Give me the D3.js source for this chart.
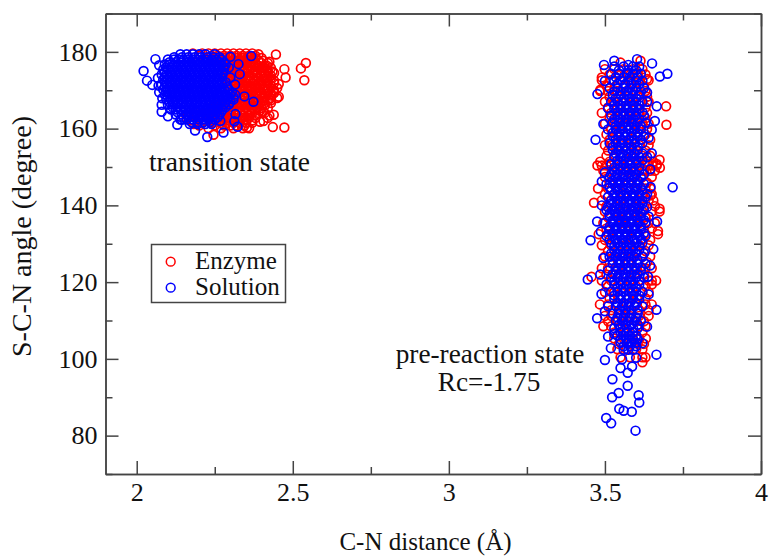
<!DOCTYPE html>
<html lang="en">

<head>
    <meta charset="utf-8">
    <title>S-C-N angle vs C-N distance</title>
    <script src="https://d3js.org/d3.v7.min.js"></script>
    <style>
        body { margin: 0; background: #fff; }
        text { font-family: "Liberation Serif", serif; fill: #111; }
    </style>
</head>

<body>
    <script type="text/javascript">
        var w = 769;
        var h = 557;

        var xTicks = [2, 2.5, 3, 3.5, 4];
        var xMinor = [2.25, 2.75, 3.25, 3.75];
        var yTicks = [80, 100, 120, 140, 160, 180];
        var yMinor = [70, 90, 110, 130, 150, 170, 190];

        var enzymeTsRows = [
            [179.6, 2.18, 2.21, 2.23, 2.25, 2.27, 2.29, 2.31, 2.33, 2.35, 2.37],
            [179, 2.2, 2.24, 2.26, 2.28, 2.3, 2.32, 2.34, 2.36, 2.38],
            [178.4, 2.23, 2.26, 2.28, 2.3, 2.32, 2.34, 2.36, 2.38, 2.4],
            [177.7, 2.25, 2.29, 2.31, 2.33, 2.35, 2.37, 2.39, 2.405],
            [177.1, 2.27, 2.29, 2.31, 2.33, 2.35, 2.365, 2.38, 2.4, 2.42],
            [176.4, 2.28, 2.3, 2.32, 2.34, 2.36, 2.375, 2.39, 2.41],
            [175.8, 2.28, 2.3, 2.32, 2.34, 2.355, 2.37, 2.39, 2.41, 2.43],
            [175.1, 2.29, 2.31, 2.33, 2.345, 2.36, 2.38, 2.4, 2.42],
            [174.5, 2.27, 2.29, 2.31, 2.33, 2.35, 2.37, 2.385, 2.4, 2.42, 2.44],
            [173.8, 2.28, 2.3, 2.32, 2.34, 2.36, 2.38, 2.395, 2.41, 2.43],
            [173.2, 2.28, 2.3, 2.32, 2.34, 2.36, 2.375, 2.39, 2.41, 2.43],
            [172.5, 2.29, 2.31, 2.33, 2.35, 2.365, 2.38, 2.4, 2.42, 2.44],
            [171.9, 2.29, 2.31, 2.33, 2.35, 2.37, 2.39, 2.4, 2.42, 2.44],
            [171.2, 2.3, 2.32, 2.34, 2.36, 2.38, 2.395, 2.41, 2.43],
            [170.6, 2.3, 2.32, 2.34, 2.36, 2.38, 2.395, 2.41, 2.43, 2.45],
            [170, 2.31, 2.33, 2.35, 2.37, 2.39, 2.405, 2.42, 2.44],
            [169.3, 2.31, 2.33, 2.35, 2.37, 2.385, 2.4, 2.42, 2.44],
            [168.6, 2.32, 2.34, 2.36, 2.38, 2.395, 2.41, 2.43],
            [168, 2.31, 2.33, 2.35, 2.365, 2.38, 2.4, 2.41, 2.43, 2.45],
            [167.3, 2.3, 2.32, 2.34, 2.36, 2.375, 2.39, 2.405, 2.42],
            [166.7, 2.26, 2.28, 2.3, 2.32, 2.34, 2.36, 2.38, 2.395, 2.41, 2.43],
            [166, 2.25, 2.27, 2.29, 2.31, 2.33, 2.35, 2.37, 2.39, 2.41],
            [165.4, 2.23, 2.25, 2.27, 2.29, 2.31, 2.33, 2.35, 2.37, 2.385, 2.4, 2.42],
            [164.7, 2.22, 2.24, 2.26, 2.28, 2.3, 2.32, 2.34, 2.36, 2.38, 2.395],
            [164.1, 2.19, 2.22, 2.25, 2.27, 2.29, 2.31, 2.33, 2.35, 2.37, 2.39, 2.41],
            [163.4, 2.21, 2.24, 2.26, 2.28, 2.3, 2.32, 2.34, 2.36, 2.38],
            [162.8, 2.16, 2.2, 2.24, 2.26, 2.28, 2.3, 2.32, 2.34, 2.36, 2.38, 2.42],
            [162.1, 2.18, 2.22, 2.25, 2.27, 2.29, 2.31, 2.33, 2.35, 2.37],
            [161.5, 2.18, 2.21, 2.24, 2.27, 2.29, 2.31, 2.33, 2.35, 2.37],
            [160.8, 2.2, 2.25, 2.28, 2.3, 2.32, 2.345],
            [160.1, 2.23, 2.27, 2.31, 2.34, 2.36]
        ];
        var enzymeTsLoose = [
            [2.446, 179.3], [2.473, 175.5], [2.477, 173.3], [2.542, 177.1], [2.526, 175.7], [2.537, 172.6],
            [2.473, 160.3], [2.436, 160.4], [2.439, 163.6], [2.455, 168.3], [2.455, 171.6], [2.39, 179.4],
            [2.417, 176.4], [2.406, 162], [2.353, 160.3], [2.246, 158.4], [2.182, 161.2], [2.425, 163.4],
            [2.44, 169.5], [2.43, 167.4], [2.435, 174.9], [2.425, 177.4], [2.405, 164.4], [2.395, 161.8]
        ];
        var enzymePreRows = [
            [175.5, 3.5, 3.53, 3.56, 3.59, 3.62],
            [174.1, 3.515, 3.545, 3.575, 3.605, 3.63],
            [172.6, 3.49, 3.52, 3.55, 3.58, 3.61, 3.64],
            [171.1, 3.505, 3.535, 3.565, 3.595, 3.625],
            [169.8, 3.485, 3.51, 3.54, 3.57, 3.6, 3.63],
            [168.3, 3.515, 3.545, 3.575, 3.605, 3.635],
            [167, 3.5, 3.53, 3.56, 3.59, 3.62, 3.64],
            [165.5, 3.51, 3.54, 3.57, 3.6, 3.63],
            [164.1, 3.49, 3.52, 3.55, 3.58, 3.61, 3.635],
            [162.7, 3.515, 3.545, 3.575, 3.605, 3.63],
            [161.3, 3.5, 3.53, 3.56, 3.59, 3.62, 3.64],
            [159.9, 3.52, 3.55, 3.58, 3.61, 3.635],
            [158.5, 3.505, 3.54, 3.57, 3.6, 3.63],
            [157.1, 3.515, 3.55, 3.585, 3.615, 3.645],
            [155.7, 3.5, 3.52, 3.55, 3.58, 3.61, 3.64],
            [154.3, 3.51, 3.54, 3.57, 3.6, 3.63],
            [152.9, 3.505, 3.53, 3.56, 3.59, 3.62, 3.645],
            [151.4, 3.485, 3.515, 3.545, 3.575, 3.605, 3.635, 3.655],
            [150.4, 3.476, 3.49, 3.505, 3.52, 3.55, 3.58, 3.61, 3.63, 3.64, 3.652, 3.666],
            [149, 3.495, 3.53, 3.565, 3.595, 3.625, 3.645, 3.66],
            [147.4, 3.5, 3.53, 3.56, 3.59, 3.62, 3.65],
            [145.9, 3.515, 3.545, 3.575, 3.605, 3.635],
            [144.4, 3.478, 3.51, 3.54, 3.57, 3.6, 3.63, 3.646],
            [142.9, 3.5, 3.53, 3.56, 3.59, 3.62, 3.65],
            [141.3, 3.49, 3.52, 3.55, 3.58, 3.61, 3.64, 3.655],
            [139.8, 3.505, 3.535, 3.565, 3.595, 3.625, 3.66],
            [138.4, 3.5, 3.53, 3.56, 3.59, 3.62, 3.65, 3.675],
            [136.9, 3.51, 3.54, 3.57, 3.6, 3.63],
            [135.4, 3.495, 3.52, 3.55, 3.58, 3.61, 3.64, 3.66],
            [134, 3.505, 3.535, 3.565, 3.595, 3.625, 3.65],
            [132.5, 3.48, 3.51, 3.54, 3.57, 3.6, 3.63, 3.67],
            [131, 3.5, 3.53, 3.56, 3.59, 3.62, 3.645],
            [129.6, 3.49, 3.52, 3.55, 3.58, 3.61, 3.64],
            [128.1, 3.51, 3.54, 3.57, 3.6, 3.63],
            [126.7, 3.5, 3.53, 3.56, 3.59, 3.62, 3.645],
            [125.2, 3.515, 3.545, 3.575, 3.605, 3.635],
            [123.6, 3.49, 3.51, 3.54, 3.57, 3.6, 3.63, 3.65],
            [122, 3.505, 3.535, 3.565, 3.595, 3.625],
            [120.4, 3.49, 3.52, 3.55, 3.58, 3.61, 3.64, 3.65, 3.664],
            [118.9, 3.51, 3.54, 3.57, 3.6, 3.63],
            [117.4, 3.5, 3.53, 3.56, 3.59, 3.62, 3.64],
            [115.8, 3.515, 3.545, 3.575, 3.605, 3.63],
            [114.2, 3.484, 3.51, 3.54, 3.57, 3.6, 3.63, 3.65],
            [112.7, 3.52, 3.55, 3.58, 3.61, 3.64],
            [111.2, 3.5, 3.52, 3.55, 3.58, 3.61, 3.64],
            [109.8, 3.51, 3.54, 3.57, 3.6, 3.625],
            [108.5, 3.495, 3.52, 3.55, 3.58, 3.61, 3.63],
            [106.9, 3.53, 3.56, 3.59, 3.62],
            [105.3, 3.53, 3.56, 3.59, 3.61, 3.631],
            [103.9, 3.545, 3.575, 3.605, 3.625],
            [102.5, 3.54, 3.57, 3.6, 3.62],
            [100.4, 3.55, 3.58, 3.62, 3.63]
        ];
        var enzymePreLoose = [
            [3.696, 165.8], [3.697, 161], [3.675, 151.9], [3.676, 149.8], [3.666, 150.8], [3.465, 140.7],
            [3.485, 170.1], [3.49, 173.3], [3.614, 177.7], [3.55, 177.2], [3.635, 172.9], [3.675, 139.1],
            [3.67, 133.3], [3.646, 142.6], [3.457, 121.4], [3.62, 99.1], [3.65, 119.4]
        ];

        var solutionTsRows = [
            [179.4, 2.14, 2.16, 2.18, 2.2, 2.22, 2.25],
            [178.6, 2.12, 2.145, 2.165, 2.185, 2.205, 2.225, 2.245, 2.265],
            [178, 2.1, 2.12, 2.135, 2.15, 2.165, 2.18, 2.195, 2.21, 2.225, 2.24, 2.255, 2.27],
            [177.3, 2.105, 2.125, 2.14, 2.16, 2.175, 2.19, 2.205, 2.22, 2.235, 2.25, 2.265, 2.28],
            [176.7, 2.09, 2.105, 2.12, 2.135, 2.15, 2.165, 2.18, 2.195, 2.21, 2.225, 2.24, 2.255, 2.27, 2.285],
            [176, 2.095, 2.11, 2.13, 2.145, 2.16, 2.175, 2.19, 2.205, 2.22, 2.235, 2.25, 2.265, 2.28],
            [175.4, 2.085, 2.1, 2.115, 2.13, 2.145, 2.16, 2.175, 2.19, 2.205, 2.22, 2.235, 2.25, 2.265, 2.28],
            [174.7, 2.09, 2.11, 2.125, 2.14, 2.155, 2.17, 2.185, 2.2, 2.215, 2.23, 2.245, 2.26, 2.275],
            [174.1, 2.08, 2.095, 2.11, 2.125, 2.14, 2.155, 2.17, 2.185, 2.2, 2.215, 2.23, 2.245, 2.26, 2.275],
            [173.4, 2.09, 2.105, 2.12, 2.135, 2.15, 2.165, 2.18, 2.195, 2.21, 2.225, 2.24, 2.255, 2.27],
            [172.8, 2.085, 2.1, 2.115, 2.13, 2.145, 2.16, 2.175, 2.19, 2.205, 2.22, 2.235, 2.25, 2.265],
            [172.1, 2.09, 2.105, 2.12, 2.135, 2.15, 2.165, 2.18, 2.195, 2.21, 2.225, 2.24, 2.255, 2.27, 2.285],
            [171.5, 2.08, 2.095, 2.11, 2.125, 2.14, 2.155, 2.17, 2.185, 2.2, 2.215, 2.23, 2.245, 2.26, 2.275],
            [170.8, 2.09, 2.105, 2.12, 2.135, 2.15, 2.165, 2.18, 2.195, 2.21, 2.225, 2.24, 2.255, 2.27, 2.29],
            [170.2, 2.085, 2.1, 2.115, 2.13, 2.145, 2.16, 2.175, 2.19, 2.205, 2.22, 2.235, 2.25, 2.265, 2.28, 2.295],
            [169.5, 2.095, 2.11, 2.125, 2.14, 2.155, 2.17, 2.185, 2.2, 2.215, 2.23, 2.245, 2.26, 2.275, 2.29, 2.305],
            [168.9, 2.09, 2.105, 2.12, 2.135, 2.15, 2.165, 2.18, 2.195, 2.21, 2.225, 2.24, 2.255, 2.27, 2.285, 2.3, 2.315],
            [168.2, 2.1, 2.115, 2.13, 2.145, 2.16, 2.175, 2.19, 2.205, 2.22, 2.235, 2.25, 2.265, 2.28, 2.295, 2.31],
            [167.6, 2.095, 2.11, 2.125, 2.14, 2.155, 2.17, 2.185, 2.2, 2.215, 2.23, 2.245, 2.26, 2.275, 2.29, 2.31],
            [166.9, 2.105, 2.12, 2.135, 2.15, 2.165, 2.18, 2.195, 2.21, 2.225, 2.24, 2.255, 2.27, 2.285, 2.3],
            [166.3, 2.1, 2.115, 2.13, 2.145, 2.16, 2.175, 2.19, 2.205, 2.22, 2.235, 2.25, 2.265, 2.28, 2.295],
            [165.6, 2.115, 2.13, 2.15, 2.165, 2.18, 2.195, 2.21, 2.225, 2.24, 2.255, 2.27, 2.285],
            [165, 2.11, 2.125, 2.14, 2.155, 2.17, 2.185, 2.2, 2.215, 2.23, 2.245, 2.26, 2.275],
            [164.3, 2.13, 2.15, 2.165, 2.18, 2.195, 2.21, 2.225, 2.24, 2.255, 2.27],
            [163.7, 2.125, 2.145, 2.16, 2.175, 2.19, 2.205, 2.22, 2.235, 2.25, 2.265],
            [163, 2.15, 2.17, 2.185, 2.2, 2.215, 2.23, 2.245, 2.26],
            [162.4, 2.14, 2.16, 2.18, 2.2, 2.215, 2.23, 2.25],
            [161.7, 2.175, 2.195, 2.215, 2.235],
            [161.2, 2.17, 2.195, 2.22, 2.24]
        ];
        var solutionTsLoose = [
            [2.022, 175], [2.06, 178.1], [2.033, 172.5], [2.05, 171.4], [2.07, 171.2], [2.08, 166.2],
            [2.08, 164.4], [2.1, 163.2], [2.13, 161], [2.145, 162.3], [2.187, 159.5], [2.226, 157.8],
            [2.278, 159], [2.323, 160.5], [2.313, 161.9], [2.268, 162], [2.316, 163.8], [2.374, 167],
            [2.345, 168.4], [2.33, 174.2], [2.326, 176.8], [2.367, 178.9], [2.3, 178.7], [2.315, 171.5],
            [2.072, 176.5], [2.068, 173.2], [2.072, 169.5], [2.082, 167.9], [2.295, 175.9], [2.3, 173.3]
        ];
        var solutionPreRows = [
            [176.2, 3.53, 3.56, 3.59, 3.61],
            [175.2, 3.545, 3.575, 3.6],
            [174.3, 3.52, 3.545, 3.57, 3.59, 3.615],
            [173.4, 3.535, 3.56, 3.58, 3.605],
            [172.5, 3.53, 3.55, 3.575, 3.6, 3.62],
            [171.6, 3.54, 3.565, 3.585, 3.61],
            [170.6, 3.515, 3.54, 3.56, 3.58, 3.6, 3.625],
            [169.7, 3.53, 3.55, 3.57, 3.59, 3.615],
            [168.8, 3.525, 3.55, 3.57, 3.59, 3.61],
            [167.9, 3.535, 3.56, 3.58, 3.6],
            [167, 3.52, 3.54, 3.56, 3.58, 3.6, 3.62, 3.635],
            [166.1, 3.53, 3.55, 3.57, 3.59, 3.61],
            [165.2, 3.53, 3.55, 3.57, 3.59, 3.61],
            [164.3, 3.54, 3.56, 3.58, 3.6, 3.62],
            [163.4, 3.52, 3.54, 3.56, 3.58, 3.6, 3.625],
            [162.5, 3.53, 3.55, 3.57, 3.59, 3.61],
            [161.6, 3.525, 3.545, 3.565, 3.585, 3.605, 3.63],
            [160.7, 3.535, 3.555, 3.575, 3.595, 3.615],
            [159.8, 3.51, 3.535, 3.555, 3.575, 3.595, 3.615],
            [158.9, 3.525, 3.545, 3.565, 3.585, 3.605],
            [158, 3.525, 3.545, 3.565, 3.585, 3.605, 3.625],
            [157.1, 3.535, 3.555, 3.575, 3.595, 3.615],
            [156.2, 3.515, 3.535, 3.555, 3.575, 3.595, 3.62],
            [155.3, 3.525, 3.545, 3.565, 3.585, 3.605],
            [154.4, 3.525, 3.545, 3.565, 3.585, 3.605],
            [153.5, 3.535, 3.555, 3.575, 3.595, 3.62],
            [152.6, 3.53, 3.55, 3.57, 3.59, 3.61, 3.635],
            [151.7, 3.54, 3.56, 3.58, 3.6, 3.62],
            [150.8, 3.52, 3.54, 3.56, 3.58, 3.6],
            [149.9, 3.53, 3.55, 3.57, 3.59, 3.61],
            [149, 3.53, 3.55, 3.57, 3.59, 3.61],
            [148.1, 3.52, 3.54, 3.56, 3.58, 3.6, 3.625],
            [147.3, 3.515, 3.535, 3.555, 3.575, 3.595, 3.615],
            [146.4, 3.525, 3.545, 3.565, 3.585, 3.605],
            [145.6, 3.505, 3.525, 3.545, 3.565, 3.585, 3.605, 3.625],
            [144.7, 3.515, 3.535, 3.555, 3.575, 3.595, 3.615],
            [143.9, 3.52, 3.54, 3.56, 3.58, 3.6, 3.62],
            [143, 3.53, 3.55, 3.57, 3.59, 3.61, 3.635],
            [142.2, 3.51, 3.53, 3.55, 3.57, 3.59, 3.61, 3.63],
            [141.3, 3.52, 3.54, 3.56, 3.58, 3.6, 3.62],
            [140.5, 3.52, 3.54, 3.56, 3.58, 3.6, 3.62],
            [139.6, 3.51, 3.53, 3.55, 3.57, 3.59, 3.61, 3.635],
            [138.8, 3.505, 3.525, 3.545, 3.565, 3.585, 3.605, 3.625],
            [137.9, 3.515, 3.535, 3.555, 3.575, 3.595, 3.615],
            [137.1, 3.515, 3.535, 3.555, 3.575, 3.595, 3.615, 3.64],
            [136.2, 3.525, 3.545, 3.565, 3.585, 3.605, 3.625],
            [135.4, 3.5, 3.525, 3.545, 3.565, 3.585, 3.605, 3.63],
            [134.5, 3.515, 3.535, 3.555, 3.575, 3.595, 3.615],
            [133.7, 3.515, 3.535, 3.555, 3.575, 3.595, 3.615],
            [132.8, 3.525, 3.545, 3.565, 3.585, 3.605, 3.625],
            [132, 3.505, 3.525, 3.545, 3.565, 3.585, 3.61, 3.63],
            [131.1, 3.515, 3.535, 3.555, 3.575, 3.595, 3.615],
            [130.2, 3.52, 3.54, 3.56, 3.58, 3.6, 3.62],
            [129.3, 3.53, 3.55, 3.57, 3.59, 3.61],
            [128.4, 3.53, 3.55, 3.57, 3.59, 3.61],
            [127.5, 3.52, 3.54, 3.56, 3.58, 3.6, 3.625],
            [126.6, 3.515, 3.535, 3.555, 3.575, 3.595, 3.62],
            [125.7, 3.525, 3.545, 3.565, 3.585, 3.605],
            [124.8, 3.525, 3.545, 3.565, 3.585, 3.605, 3.63],
            [123.9, 3.535, 3.555, 3.575, 3.595, 3.615],
            [123, 3.51, 3.535, 3.555, 3.575, 3.595, 3.615],
            [122.1, 3.525, 3.545, 3.565, 3.585, 3.605],
            [121.2, 3.52, 3.54, 3.56, 3.58, 3.6, 3.625],
            [120.3, 3.53, 3.55, 3.57, 3.59, 3.61],
            [119.4, 3.505, 3.53, 3.55, 3.57, 3.59, 3.61],
            [118.4, 3.54, 3.56, 3.58, 3.6],
            [117.5, 3.52, 3.54, 3.56, 3.58, 3.6, 3.62],
            [116.5, 3.53, 3.55, 3.57, 3.59, 3.61],
            [115.6, 3.53, 3.55, 3.57, 3.59, 3.61],
            [114.6, 3.54, 3.56, 3.58, 3.6],
            [113.7, 3.51, 3.535, 3.555, 3.575, 3.595, 3.62],
            [112.7, 3.545, 3.565, 3.585, 3.605],
            [111.8, 3.525, 3.545, 3.565, 3.585, 3.605],
            [110.8, 3.54, 3.56, 3.58, 3.6],
            [109.9, 3.535, 3.555, 3.575, 3.595, 3.615],
            [108.9, 3.545, 3.565, 3.585, 3.605],
            [108, 3.53, 3.55, 3.57, 3.59, 3.605],
            [107, 3.55, 3.57, 3.59],
            [106.1, 3.54, 3.56, 3.58, 3.6],
            [105.1, 3.55, 3.57, 3.59, 3.605],
            [104.2, 3.55, 3.57, 3.585, 3.6],
            [103.3, 3.56, 3.58, 3.6],
            [102.4, 3.56, 3.575, 3.59]
        ];
        var solutionPreLoose = [
            [3.651, 177], [3.676, 173.6], [3.7, 174.3], [3.603, 178.1], [3.53, 177.7], [3.497, 176.6],
            [3.575, 176.6], [3.476, 169], [3.47, 157.1], [3.717, 144.7], [3.454, 130.9], [3.666, 165.8],
            [3.66, 162], [3.65, 159.7], [3.65, 153.6], [3.646, 144.8], [3.667, 135.8], [3.49, 140],
            [3.475, 135.8], [3.445, 120.7], [3.489, 116.9], [3.485, 122], [3.638, 121.4], [3.665, 112.8],
            [3.475, 110.6], [3.665, 101.1], [3.5, 99.7], [3.519, 102.8], [3.524, 94.7], [3.573, 93],
            [3.523, 90], [3.544, 91.1], [3.608, 90.5], [3.61, 88.6], [3.546, 87], [3.56, 86.5],
            [3.586, 86.2], [3.504, 84.6], [3.52, 83.2], [3.598, 81.3], [3.55, 97.6], [3.573, 96.4],
            [3.587, 98], [3.555, 99.9], [3.6, 100.3],
            [3.5, 172.4], [3.51, 165.3], [3.495, 161.2], [3.5, 148.6], [3.49, 146.2], [3.487, 133.2],
            [3.495, 126.3], [3.5, 112.4], [3.51, 105.8], [3.635, 169.4], [3.64, 157.6], [3.645, 149.4],
            [3.655, 128.6], [3.645, 124.3], [3.64, 116.8], [3.635, 108.4], [3.62, 104.1], [3.53, 106.5]
        ];

        // rows -> [distance, angle]
        function unrow(rows) {
            return rows.flatMap(function (r) {
                return r.slice(1).map(function (d) { return [d, r[0]]; });
            });
        }
        var enzyme = unrow(enzymeTsRows).concat(enzymeTsLoose, unrow(enzymePreRows), enzymePreLoose);
        var solution = unrow(solutionTsRows).concat(solutionTsLoose, unrow(solutionPreRows), solutionPreLoose);

        var svg = d3.select("body")
            .append("svg").attr("width", w).attr("height", h).style("display", "block");

        var x = d3.scaleLinear().domain([1.9, 4]).range([105.5, 761]);
        var y = d3.scaleLinear().domain([70, 190]).range([474, 13.5]);

        function drawPoints(data, color) {
            svg.append("g").selectAll("circle")
                .data(data).enter().append("circle")
                .attr("cx", function (d) { return x(d[0]); })
                .attr("cy", function (d) { return y(d[1]); })
                .attr("r", 4.4)
                .attr("fill", "none")
                .attr("stroke", color)
                .attr("stroke-width", 1.7);
        }
        drawPoints(enzyme, "#ff0000");
        drawPoints(solution, "#0000ff");

        // frame and ticks, minor ones are shorter
        function axisGroup(axis, tx, ty) {
            var g = svg.append("g").attr("transform", "translate(" + tx + "," + ty + ")").call(axis);
            g.selectAll("line").attr("stroke", "#444").attr("stroke-width", 1.5);
            g.selectAll(".domain").attr("stroke", "#444").attr("stroke-width", 1.5);
            g.selectAll("text").style("font-family", '"Liberation Serif", serif').style("font-size", "26px").attr("fill", "#111");
            return g;
        }
        axisGroup(d3.axisBottom(x).tickValues(xTicks).tickFormat(d3.format("")).tickSize(-13).tickSizeOuter(0).tickPadding(9), 0, 474);
        axisGroup(d3.axisLeft(y).tickValues(yTicks).tickFormat(d3.format("")).tickSize(-13).tickSizeOuter(0).tickPadding(8), 105.5, 0);
        axisGroup(d3.axisTop(x).tickValues(xTicks).tickFormat("").tickSize(-13).tickSizeOuter(0), 0, 13.5);
        axisGroup(d3.axisRight(y).tickValues(yTicks).tickFormat("").tickSize(-13).tickSizeOuter(0), 761, 0);
        axisGroup(d3.axisBottom(x).tickValues(xMinor).tickFormat("").tickSize(-7).tickSizeOuter(0), 0, 474);
        axisGroup(d3.axisLeft(y).tickValues(yMinor).tickFormat("").tickSize(-7).tickSizeOuter(0), 105.5, 0);
        axisGroup(d3.axisTop(x).tickValues(xMinor).tickFormat("").tickSize(-7).tickSizeOuter(0), 0, 13.5);
        axisGroup(d3.axisRight(y).tickValues(yMinor).tickFormat("").tickSize(-7).tickSizeOuter(0), 761, 0);

        function label(txt, px, py, size) {
            return svg.append("text").attr("x", px).attr("y", py)
                .attr("text-anchor", "middle").style("font-size", size + "px").text(txt);
        }
        label("C-N distance (Å)", 425.5, 550, 25);
        label("S-C-N angle (degree)", 0, 0, 28)
            .attr("transform", "translate(31,236.5) rotate(-90)");
        label("transition state", 229.5, 171, 27.5);
        label("pre-reaction state", 490, 363, 27.3);
        label("Rc=-1.75", 489, 391, 27.3);

        // legend
        var legend = svg.append("g");
        legend.append("rect").attr("x", 151.5).attr("y", 244.5).attr("width", 134).attr("height", 58)
            .attr("fill", "#fff").attr("stroke", "#444").attr("stroke-width", 1.5);
        [["Enzyme", "#ff0000", 261.7], ["Solution", "#0000ff", 287.7]].forEach(function (e) {
            legend.append("circle").attr("cx", 170.7).attr("cy", e[2]).attr("r", 4.4)
                .attr("fill", "none").attr("stroke", e[1]).attr("stroke-width", 1.5);
            legend.append("text").attr("x", 195).attr("y", e[2] + 7).style("font-size", "25px").text(e[0]);
        });
    </script>
</body>

</html>
